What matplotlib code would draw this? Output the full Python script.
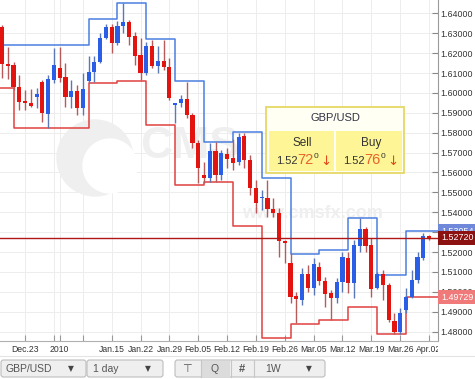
import matplotlib
matplotlib.use("Agg")
import matplotlib.pyplot as plt
import matplotlib.transforms as mtransforms
from matplotlib.patches import Rectangle, FancyBboxPatch, Circle

plt.rcParams["font.family"] = ["Liberation Sans", "DejaVu Sans"]

# GBP/USD daily candles, Dec 2009 - Apr 2010
opens = [1.6331, 1.6145, 1.6140, 1.6030, 1.5959, 1.5949, 1.5979, 1.6055, 1.5894, 1.6065,
         1.6125, 1.6080, 1.5979, 1.6009, 1.5924, 1.6060, 1.6105, 1.6155, 1.6276, 1.6331,
         1.6251, 1.6336, 1.6356, 1.6286, 1.6190, 1.6100, 1.6236, 1.6135, 1.6160, 1.6130,
         1.5939, 1.5949, 1.5969, 1.5889, 1.5748, 1.5588, 1.5572, 1.5708, 1.5588, 1.5693,
         1.5673, 1.5653, 1.5783, 1.5663, 1.5522, 1.5472, 1.5472, 1.5417, 1.5397, 1.5256,
         1.5145, 1.4979, 1.4959, 1.5090, 1.5020, 1.5125, 1.5055, 1.4994, 1.4969, 1.5050,
         1.5170, 1.5045, 1.5231, 1.5316, 1.5236, 1.5020, 1.5090, 1.5035, 1.4854, 1.4799,
         1.4909, 1.4974, 1.5060, 1.5170, 1.5281]
highs = [1.6341, 1.6231, 1.6155, 1.6090, 1.6015, 1.6020, 1.6025, 1.6065, 1.6090, 1.6226,
         1.6231, 1.6150, 1.6065, 1.6040, 1.6100, 1.6185, 1.6185, 1.6301, 1.6346, 1.6346,
         1.6361, 1.6452, 1.6366, 1.6306, 1.6276, 1.6256, 1.6266, 1.6236, 1.6266, 1.6175,
         1.5949, 1.5989, 1.6055, 1.5899, 1.5763, 1.5653, 1.5748, 1.5753, 1.5713, 1.5723,
         1.5768, 1.5799, 1.5799, 1.5688, 1.5562, 1.5512, 1.5562, 1.5472, 1.5422, 1.5261,
         1.5195, 1.4999, 1.5120, 1.5135, 1.5170, 1.5150, 1.5075, 1.5009, 1.5070, 1.5200,
         1.5200, 1.5261, 1.5371, 1.5326, 1.5271, 1.5100, 1.5110, 1.5045, 1.4894, 1.4919,
         1.5020, 1.5110, 1.5200, 1.5296, 1.5286]
lows = [1.6075, 1.6070, 1.6015, 1.5914, 1.5914, 1.5929, 1.5924, 1.5854, 1.5824, 1.6050,
        1.6055, 1.5929, 1.5924, 1.5889, 1.5889, 1.6050, 1.6055, 1.6150, 1.6271, 1.6201,
        1.6241, 1.6301, 1.6241, 1.6140, 1.6065, 1.6090, 1.6125, 1.6100, 1.6115, 1.5964,
        1.5849, 1.5929, 1.5874, 1.5723, 1.5547, 1.5547, 1.5552, 1.5552, 1.5562, 1.5623,
        1.5613, 1.5638, 1.5623, 1.5487, 1.5397, 1.5412, 1.5377, 1.5377, 1.5175, 1.5145,
        1.4944, 1.4844, 1.4934, 1.4999, 1.4984, 1.5035, 1.4924, 1.4859, 1.4944, 1.4999,
        1.4994, 1.4969, 1.5200, 1.5200, 1.4974, 1.5015, 1.4959, 1.4849, 1.4789, 1.4789,
        1.4894, 1.4969, 1.5045, 1.5160, 1.5261]
closes = [1.6145, 1.6135, 1.6030, 1.5954, 1.5949, 1.5934, 1.5994, 1.5899, 1.6070, 1.6140,
          1.6075, 1.5979, 1.6009, 1.5924, 1.6020, 1.6105, 1.6155, 1.6276, 1.6331, 1.6251,
          1.6336, 1.6356, 1.6281, 1.6186, 1.6100, 1.6236, 1.6135, 1.6160, 1.6130, 1.5974,
          1.5949, 1.5969, 1.5889, 1.5748, 1.5623, 1.5572, 1.5708, 1.5588, 1.5698, 1.5668,
          1.5648, 1.5778, 1.5663, 1.5522, 1.5447, 1.5477, 1.5417, 1.5397, 1.5256, 1.5246,
          1.4974, 1.4964, 1.5090, 1.5020, 1.5140, 1.5055, 1.4989, 1.4969, 1.5050, 1.5175,
          1.5045, 1.5236, 1.5316, 1.5231, 1.5015, 1.5090, 1.5035, 1.4859, 1.4799, 1.4894,
          1.4974, 1.5060, 1.5175, 1.5281, 1.5272]

# weekly high / low channel (index of first candle of each segment)
week_start = [0, 2, 6, 10, 15, 20, 25, 30, 35, 40, 45, 50, 55, 60, 65, 70]
upper = [1.6241, 1.6241, 1.6241, 1.6241, 1.6371, 1.6452, 1.6271, 1.6060,
         1.5753, 1.5804, 1.5572, 1.5191, 1.5211, 1.5371, 1.5085, 1.53054]
lower = [1.6025, 1.5824, 1.5824, 1.5824, 1.6050, 1.6060, 1.5839, 1.5537,
         1.5552, 1.5331, 1.4768, 1.4839, 1.4859, 1.4924, 1.4788, 1.49729]

tick_idx = [4, 9, 10, 14, 19, 24, 29, 34, 39, 44, 49, 54, 59, 64, 69, 74]
tick_labels = ["Dec.23", "", "2010", "", "Jan.15", "Jan.22", "Jan.29", "Feb.05",
               "Feb.12", "Feb.19", "Feb.26", "Mar.05", "Mar.12", "Mar.19", "Mar.26", "Apr.02"]
price_ticks = [1.48, 1.49, 1.50, 1.51, 1.52, 1.53, 1.54, 1.55, 1.56,
               1.57, 1.58, 1.59, 1.60, 1.61, 1.62, 1.63, 1.64]
hidden_ticks = [1.53]  # sits under the price labels on the right

symbol = "GBP/USD"
sell_price = "1.52720"
buy_price = "1.52760"
last_price = 1.52720

RED = "#e3140f"
BLUE = "#2a5ee6"
RED_WICK = "#b85a5a"
BLUE_WICK = "#5a78b8"
CH_RED = "#e04040"
CH_BLUE = "#4a7ee0"

W, H = 475, 379
XMIN, XMAX = -0.35, 75.55

fig = plt.figure(figsize=(W / 100, H / 100), dpi=100)
fig.patch.set_facecolor("white")
ax = fig.add_axes([0, 1 - 341 / H, 438 / W, 341 / H])
ax.set_xlim(XMIN, XMAX)
ax.set_ylim(1.4753, 1.6467)

# pixel coordinates, origin top-left
PIX = mtransforms.Affine2D().scale(1 / W, -1 / H).translate(0, 1) + fig.transFigure

# grid
for t in price_ticks:
    ax.axhline(t, color="#ededed", lw=0.7, zorder=0)
for t in tick_idx:
    ax.axvline(t, color="#ededed", lw=0.7, zorder=0)

# watermark
ax.add_patch(Circle((95, 158), 38, transform=PIX, color="#efefef", zorder=0.5))
ax.add_patch(Circle((110, 166), 27, transform=PIX, color="white", zorder=0.6))
ax.text(140, 146, "CMS", transform=PIX, fontsize=32, fontweight="bold",
        color="#efefef", va="center", ha="left", zorder=0.7)
ax.text(312, 213, "www.cmsfx.com", transform=PIX, fontsize=13, fontweight="bold",
        color="#efefef", va="center", ha="center", zorder=0.7)

# channel
xs = [XMIN] + week_start[1:] + [XMAX]
ax.plot(xs, upper + [upper[-1]], drawstyle="steps-post", color=CH_BLUE, lw=1.1, zorder=2)
ax.plot(xs, lower + [lower[-1]], drawstyle="steps-post", color=CH_RED, lw=1.1, zorder=2)

# candles
x = list(range(len(opens)))
is_up = [c >= o for o, c in zip(opens, closes)]
body_col = [BLUE if u else RED for u in is_up]
wick_col = [BLUE_WICK if u else RED_WICK for u in is_up]
ax.vlines(x, lows, highs, colors=wick_col, lw=1.0, zorder=3)
bottoms = [min(o, c) for o, c in zip(opens, closes)]
heights = [max(abs(c - o), 0.0004) for o, c in zip(opens, closes)]
ax.bar(x, heights, bottom=bottoms, width=0.72, color=body_col, zorder=4)

# last price line
ax.axhline(last_price, color="#b01818", lw=1.0, zorder=5)

# axes styling
for s in ["top", "left"]:
    ax.spines[s].set_visible(False)
ax.spines["right"].set_color("#9a9a9a")
ax.spines["bottom"].set_color("#b0b0b0")
ax.yaxis.tick_right()
ax.set_yticks(price_ticks)
ax.set_yticklabels(["" if t in hidden_ticks else f"{t:.5f}" for t in price_ticks])
ax.set_xticks(tick_idx)
ax.set_xticklabels(tick_labels)
ax.tick_params(axis="y", direction="in", length=4, color="#888888",
               labelsize=6.4, labelcolor="#333333", pad=2)
ax.tick_params(axis="x", direction="in", length=4, color="#999999",
               labelsize=6.2, labelcolor="#333333", pad=3)
clip = mtransforms.TransformedBbox(mtransforms.Bbox([[0, 0], [438 / W, 1]]), fig.transFigure)
for lab in ax.get_xticklabels():
    lab.set_clip_box(clip)
    lab.set_clip_on(True)

# right side price labels (drawn in this order, so the last price sits on top)
blend = mtransforms.blended_transform_factory(fig.transFigure, ax.transData)
for price, face in [(upper[-1], "#7088da"), (lower[-1], "#f07a7a"), (last_price, "#8c1212")]:
    fig.add_artist(Rectangle((438 / W, price - 0.0035), 37 / W, 0.0070,
                             transform=blend, facecolor=face, edgecolor="none", zorder=5))
    fig.add_artist(plt.Text(441 / W, price, f"{price:.5f}", transform=blend, fontsize=6.4,
                            color="white", va="center", ha="left", zorder=5))

# quote tooltip
fig.add_artist(Rectangle((266, 107), 138, 66, transform=PIX, facecolor="#fffff4",
                         edgecolor="#e6d866", lw=1.3, zorder=7))
fig.add_artist(Rectangle((268.5, 131), 65, 40, transform=PIX, facecolor="#fdf596",
                         edgecolor="none", zorder=7))
fig.add_artist(Rectangle((336, 131), 66, 40, transform=PIX, facecolor="#fdf596",
                         edgecolor="none", zorder=7))
fig.text(335 / W, 1 - 118 / H, symbol, fontsize=8, color="#333344",
         ha="center", va="center", zorder=8)
fig.text(302 / W, 1 - 143 / H, "Sell", fontsize=8.5, color="#333333",
         ha="center", va="center", zorder=8)
fig.text(371 / W, 1 - 143 / H, "Buy", fontsize=8.5, color="#333333",
         ha="center", va="center", zorder=8)
for x0, p in [(276, sell_price), (343, buy_price)]:
    fig.text(x0 / W, 1 - 164 / H, p[:4], fontsize=8, color="#333333",
             ha="left", va="baseline", zorder=8)
    fig.text((x0 + 21) / W, 1 - 164 / H, p[4:6], fontsize=10.5, color="#e8632a",
             ha="left", va="baseline", zorder=8)
    fig.text((x0 + 37.5) / W, 1 - 158 / H, p[6], fontsize=6, color="#333333",
             ha="left", va="baseline", zorder=8)
    fig.text((x0 + 44) / W, 1 - 164.5 / H, "\u2193", fontsize=9.5, color="#e04a1a",
             ha="left", va="baseline", family=["DejaVu Sans"], zorder=8)

# bottom toolbar
fig.add_artist(plt.Line2D([0, 1], [1 - 356 / H] * 2, color="#e4e4e4", lw=0.8))


def button(x0, x1, face="#efefef"):
    fig.add_artist(FancyBboxPatch((x0, 360), x1 - x0, 17,
                                  boxstyle="round,pad=0,rounding_size=2.5",
                                  transform=PIX, facecolor=face,
                                  edgecolor="#bdbdbd", lw=0.8))


button(1, 86)
button(87, 163)
button(175, 325)
fig.add_artist(Rectangle((201, 360.5), 29, 16, transform=PIX, facecolor="#dcdcdc",
                         edgecolor="none"))
for xs_ in [200.5, 230.5, 253.5]:
    fig.add_artist(plt.Line2D([xs_ / W] * 2, [1 - 360 / H, 1 - 377 / H],
                              color="#c6c6c6", lw=0.8))
ty = 1 - 369 / H
fig.text(6 / W, ty, symbol, fontsize=7.5, color="#555555", va="center")
fig.text(71 / W, ty, "\u25bc", fontsize=5.5, color="#444444", va="center", ha="center",
         family=["DejaVu Sans"])
fig.text(93 / W, ty, "1 day", fontsize=7.5, color="#555555", va="center")
fig.text(148 / W, ty, "\u25bc", fontsize=5.5, color="#444444", va="center", ha="center",
         family=["DejaVu Sans"])
fig.text(187 / W, ty, "\u22a4", fontsize=8, color="#555555", va="center", ha="center",
         family=["DejaVu Sans"])
fig.text(215 / W, ty, "Q", fontsize=7.5, color="#555555", va="center", ha="center")
fig.text(242 / W, ty, "#", fontsize=8, color="#555555", va="center", ha="center",
         fontweight="bold")
fig.text(265 / W, ty, "1W", fontsize=7.5, color="#555555", va="center")
fig.text(309 / W, ty, "\u25bc", fontsize=5.5, color="#444444", va="center", ha="center",
         family=["DejaVu Sans"])

fig.savefig("out.png", dpi=100)
